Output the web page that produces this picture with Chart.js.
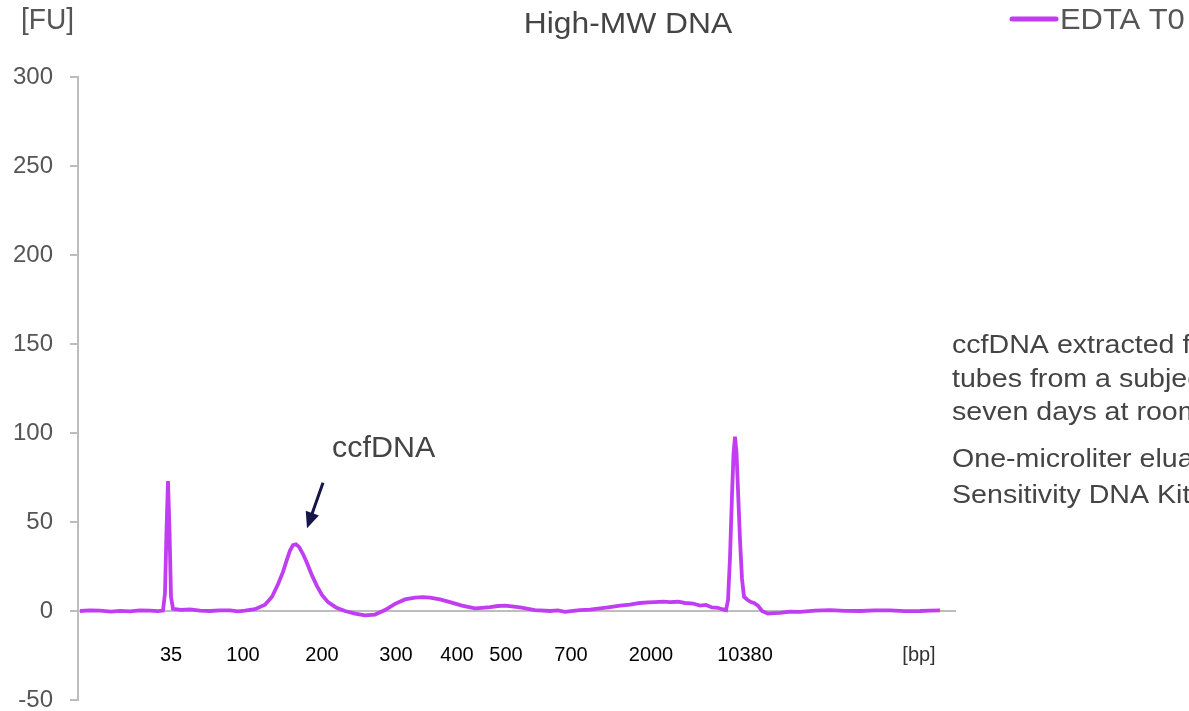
<!DOCTYPE html>
<html>
<head>
<meta charset="utf-8">
<script src="https://cdn.jsdelivr.net/npm/chart.js@4"></script>
<style>
  body { margin: 0; background: #fff; }
  canvas { display: block; }
</style>
</head>
<body>
<canvas id="trace" width="1189" height="711"></canvas>
<script>
// Electropherogram trace, migration time (s) vs fluorescence [FU]
const migrationTime = [
  40.2, 41.2, 42.2, 43.3, 44.2, 45.2, 46.2, 47.2, 48.0, 48.5, 48.7, 48.85, 49.0, 49.15,
  49.3, 49.5, 50.3, 51.2, 52.2, 53.2, 54.2, 55.2, 56.0, 56.7, 57.7, 58.7, 59.4, 60.0,
  60.5, 60.9, 61.2, 61.5, 61.8, 62.1, 62.5, 62.9, 63.4, 63.9, 64.4, 65.0, 65.8, 66.7,
  67.7, 68.7, 69.7, 70.7, 71.7, 72.7, 73.7, 74.5, 75.2, 76.2, 77.2, 78.4, 79.7, 80.4,
  81.2, 82.0, 82.7, 83.4, 84.2, 85.7, 87.2, 88.0, 88.7, 89.5, 90.2, 91.2, 92.2, 93.2,
  94.2, 95.2, 96.2, 97.0, 97.7, 98.5, 99.2, 100.0, 100.7, 101.5, 102.2, 102.8, 103.4,
  104.0, 104.4, 104.8, 105.0, 105.2, 105.4, 105.55, 105.7, 105.85, 106.0, 106.2, 106.4,
  106.6, 106.8, 107.0, 107.3, 107.6, 108.0, 108.4, 109.0, 109.6, 110.2, 111.2, 112.2,
  113.7, 115.2, 116.7, 118.2, 119.7, 121.2, 122.7, 124.2, 125.2, 126.2
];
const fluorescence = [
  0, 0.4, 0.2, -0.3, 0.1, -0.2, 0.3, 0.2, -0.1, 0.2, 10, 45, 73, 45,
  8, 1.2, 0.6, 0.9, 0.2, 0, 0.4, 0.3, -0.2, 0.2, 1, 3.5, 8, 15,
  22, 29, 34, 37, 37.5, 36, 32, 27, 20, 14, 9, 5, 2, 0,
  -1.5, -2.5, -2, 0.5, 4, 6.5, 7.5, 7.8, 7.5, 6.5, 5, 3, 1.5, 1.8,
  2.2, 2.8, 3, 2.6, 2, 0.5, 0, 0.3, -0.5, 0.1, 0.5, 0.8, 1.5, 2.2,
  3, 3.6, 4.5, 4.8, 5, 5.3, 5, 5.2, 4.5, 4.2, 3, 3.4, 2,
  1.8, 1, 0.5, 6, 30, 65, 88, 98, 89, 68, 40, 18,
  8, 7, 6, 5, 4.5, 3, 0, -1.5, -1.2, -1, -0.4, -0.5,
  0.2, 0.5, 0.1, 0, 0.4, 0.3, -0.1, 0, 0.2, 0.3
];

// ladder sizes shown under the axis
const ladderTimes = [49.3, 56.5, 64.4, 71.8, 77.9, 82.8, 89.3, 97.3, 106.7, 124.1];
const ladderLabels = ['35', '100', '200', '300', '400', '500', '700', '2000', '10380', '[bp]'];

const seriesName = 'EDTA T0';
const lineColor = '#c13df2';
const textColor = '#555555';
const fontFamily = '"Liberation Sans", Arial, sans-serif';

// stretched text helper (the slide text is a bit wide)
function wideText(ctx, str, x, y, size, color, stretch, align) {
  ctx.save();
  ctx.font = size + 'px ' + fontFamily;
  ctx.fillStyle = color;
  ctx.textBaseline = 'alphabetic';
  ctx.textAlign = align || 'left';
  ctx.translate(x, y);
  ctx.scale(stretch, 1);
  ctx.fillText(str, 0, 0);
  ctx.restore();
}

const slideText = {
  id: 'slideText',
  afterDraw(chart) {
    const ctx = chart.ctx;
    const xs = chart.scales.x, ys = chart.scales.y;

    wideText(ctx, 'High-MW DNA', 628, 33, 30, '#444444', 1.06, 'center');
    wideText(ctx, '[FU]', 21, 29, 29, textColor, 0.97);

    // legend
    ctx.save();
    ctx.strokeStyle = lineColor;
    ctx.lineWidth = 5;
    ctx.lineCap = 'round';
    ctx.beginPath();
    ctx.moveTo(1012, 19);
    ctx.lineTo(1056, 19);
    ctx.stroke();
    ctx.restore();
    wideText(ctx, seriesName, 1060, 29, 30, textColor, 1.03);

    // notes on the right
    const notes = [
      ['ccfDNA extracted from', 353],
      ['tubes from a subject', 387],
      ['seven days at room', 420],
      ['One-microliter eluate', 467],
      ['Sensitivity DNA Kit', 503]
    ];
    notes.forEach(n => wideText(ctx, n[0], 952, n[1], 26, '#444444', 1.1));

    // ccfDNA label and arrow
    wideText(ctx, 'ccfDNA', xs.getPixelForValue(65.4), ys.getPixelForValue(86.5), 29, '#444444', 1.05);
    const x1 = xs.getPixelForValue(64.5), y1 = ys.getPixelForValue(72);
    const x2 = xs.getPixelForValue(62.9), y2 = ys.getPixelForValue(46.5);
    const ang = Math.atan2(y2 - y1, x2 - x1);
    ctx.save();
    ctx.strokeStyle = '#16164a';
    ctx.fillStyle = '#16164a';
    ctx.lineWidth = 3;
    ctx.beginPath();
    ctx.moveTo(x1, y1);
    ctx.lineTo(x2 - 10 * Math.cos(ang), y2 - 10 * Math.sin(ang));
    ctx.stroke();
    ctx.beginPath();
    ctx.moveTo(x2, y2);
    ctx.lineTo(x2 - 16 * Math.cos(ang) + 7 * Math.sin(ang), y2 - 16 * Math.sin(ang) - 7 * Math.cos(ang));
    ctx.lineTo(x2 - 16 * Math.cos(ang) - 7 * Math.sin(ang), y2 - 16 * Math.sin(ang) + 7 * Math.cos(ang));
    ctx.closePath();
    ctx.fill();
    ctx.restore();
  }
};

const points = migrationTime.map((t, i) => ({ x: t, y: fluorescence[i] }));

new Chart(document.getElementById('trace'), {
  type: 'scatter',
  data: {
    datasets: [{
      label: seriesName,
      data: points,
      showLine: true,
      borderColor: lineColor,
      backgroundColor: lineColor,
      borderWidth: 3.8,
      pointRadius: 0,
      tension: 0
    }]
  },
  options: {
    responsive: false,
    animation: false,
    layout: { padding: { left: 0, right: 234, top: 77, bottom: 11 } },
    plugins: {
      legend: { display: false },
      title: { display: false },
      tooltip: { enabled: false }
    },
    scales: {
      x: {
        type: 'linear',
        position: { y: 0 },
        min: 40,
        max: 127.7,
        afterBuildTicks: scale => {
          scale.ticks = ladderTimes.map(v => ({ value: v }));
        },
        grid: { display: false, drawTicks: false },
        border: { display: true, color: '#bdbdbd', width: 2 },
        ticks: {
          autoSkip: false,
          maxRotation: 0,
          padding: 32,
          color: ctx => ctx.index === ladderLabels.length - 1 ? '#333333' : '#000000',
          font: { size: 20, family: fontFamily },
          callback: (v, i) => ladderLabels[i]
        }
      },
      y: {
        min: -50,
        max: 300,
        // fixed axis width; the tick padding should not push the plot up from the bottom
        afterFit: scale => {
          scale.width = 78;
          scale.paddingTop = 0;
          scale.paddingBottom = 0;
        },
        grid: { drawOnChartArea: false, tickLength: 8, color: '#bdbdbd', lineWidth: 2 },
        border: { display: true, color: '#bdbdbd', width: 2 },
        ticks: {
          stepSize: 50,
          padding: 17,
          color: textColor,
          font: { size: 24, family: fontFamily }
        }
      }
    }
  },
  plugins: [slideText]
});
</script>
</body>
</html>
